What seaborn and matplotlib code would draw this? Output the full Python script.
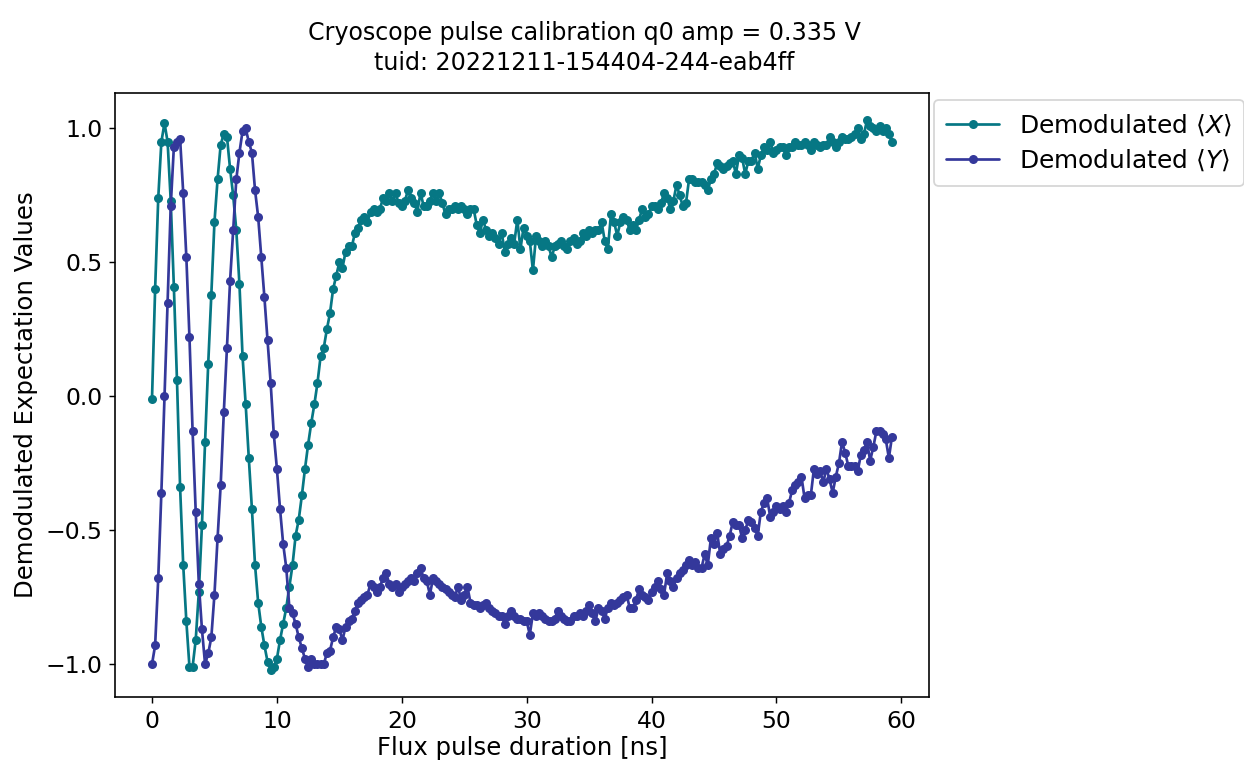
import numpy as np
import pandas as pd
import matplotlib
matplotlib.use("Agg")
import matplotlib.pyplot as plt
import seaborn as sns

# flux pulse durations [ns]
duration = np.arange(238) * 0.25

demod_x = [
    -0.01, 0.40, 0.74, 0.95, 1.02, 0.95, 0.73, 0.41, 0.06, -0.34,
    -0.63, -0.84, -1.01, -1.01, -0.91, -0.73, -0.48, -0.17, 0.12, 0.38,
    0.65, 0.81, 0.94, 0.98, 0.97, 0.85, 0.75, 0.62, 0.42, 0.15,
    -0.03, -0.23, -0.42, -0.63, -0.77, -0.86, -0.93, -0.99, -1.02, -1.01,
    -0.98, -0.91, -0.85, -0.79, -0.71, -0.63, -0.52, -0.46, -0.37, -0.27,
    -0.18, -0.10, -0.03, 0.05, 0.15, 0.18, 0.25, 0.31, 0.40, 0.45,
    # 15-20
    0.50, 0.48, 0.54, 0.56, 0.56, 0.61, 0.63, 0.66, 0.67, 0.65,
    0.69, 0.70, 0.69, 0.70, 0.74, 0.73, 0.76, 0.73, 0.76, 0.72,
    # 20-25
    0.71, 0.73, 0.77, 0.74, 0.72, 0.69, 0.76, 0.71, 0.71, 0.73,
    0.76, 0.73, 0.76, 0.72, 0.68, 0.70, 0.70, 0.71, 0.70, 0.71,
    # 25-30
    0.70, 0.68, 0.70, 0.70, 0.64, 0.61, 0.66, 0.62, 0.60, 0.61,
    0.59, 0.57, 0.61, 0.54, 0.57, 0.59, 0.57, 0.66, 0.55, 0.63,
    # 30-35
    0.60, 0.58, 0.47, 0.60, 0.58, 0.56, 0.58, 0.56, 0.52, 0.56,
    0.57, 0.58, 0.56, 0.55, 0.58, 0.59, 0.57, 0.58, 0.61, 0.60,
    # 35-40
    0.62, 0.61, 0.62, 0.62, 0.65, 0.58, 0.55, 0.68, 0.65, 0.60,
    0.65, 0.67, 0.66, 0.62, 0.64, 0.62, 0.66, 0.70, 0.67, 0.68,
    # 40-45
    0.71, 0.71, 0.70, 0.72, 0.76, 0.74, 0.70, 0.73, 0.79, 0.75,
    0.71, 0.72, 0.81, 0.81, 0.80, 0.80, 0.80, 0.79, 0.77, 0.81,
    # 45-50
    0.83, 0.87, 0.86, 0.85, 0.86, 0.87, 0.88, 0.83, 0.90, 0.89,
    0.83, 0.88, 0.88, 0.91, 0.85, 0.90, 0.93, 0.92, 0.95, 0.91,
    # 50-55
    0.92, 0.93, 0.93, 0.90, 0.93, 0.93, 0.95, 0.94, 0.94, 0.95,
    0.94, 0.92, 0.95, 0.94, 0.93, 0.94, 0.94, 0.97, 0.95, 0.93,
    # 55-59.25
    0.95, 0.97, 0.96, 0.96, 0.97, 0.98, 1.00, 0.96, 0.98, 1.03,
    1.01, 1.00, 0.99, 1.01, 0.99, 1.00, 0.98, 0.95,
]

demod_y = [
    -1.00, -0.93, -0.68, -0.36, 0.00, 0.35, 0.71, 0.93, 0.95, 0.96,
    0.76, 0.52, 0.22, -0.13, -0.43, -0.70, -0.87, -1.00, -0.96, -0.90,
    -0.74, -0.53, -0.33, -0.06, 0.18, 0.43, 0.62, 0.81, 0.91, 0.99,
    1.00, 0.95, 0.91, 0.77, 0.67, 0.52, 0.37, 0.21, 0.05, -0.14,
    -0.27, -0.42, -0.55, -0.64, -0.79, -0.81, -0.85, -0.90, -0.94, -0.98,
    -1.01, -0.98, -1.00, -1.00, -1.00, -1.00, -0.96, -0.95, -0.90, -0.86,
    # 15-20
    -0.87, -0.91, -0.86, -0.84, -0.83, -0.80, -0.77, -0.76, -0.75, -0.74,
    -0.70, -0.71, -0.73, -0.71, -0.68, -0.66, -0.70, -0.71, -0.70, -0.73,
    # 20-25
    -0.71, -0.70, -0.69, -0.68, -0.69, -0.66, -0.64, -0.68, -0.69, -0.74,
    -0.68, -0.69, -0.70, -0.71, -0.72, -0.73, -0.74, -0.75, -0.71, -0.76,
    # 25-30
    -0.74, -0.71, -0.77, -0.78, -0.78, -0.79, -0.78, -0.77, -0.79, -0.80,
    -0.81, -0.82, -0.82, -0.85, -0.82, -0.80, -0.82, -0.83, -0.83, -0.84,
    # 30-35
    -0.84, -0.89, -0.81, -0.82, -0.81, -0.82, -0.83, -0.84, -0.84, -0.83,
    -0.80, -0.82, -0.83, -0.84, -0.84, -0.82, -0.82, -0.81, -0.82, -0.80,
    # 35-40
    -0.78, -0.81, -0.84, -0.79, -0.80, -0.83, -0.79, -0.77, -0.78, -0.77,
    -0.76, -0.75, -0.74, -0.79, -0.79, -0.76, -0.72, -0.74, -0.75, -0.76,
    # 40-45
    -0.73, -0.71, -0.69, -0.72, -0.74, -0.66, -0.69, -0.71, -0.68, -0.66,
    -0.65, -0.63, -0.61, -0.63, -0.62, -0.64, -0.64, -0.59, -0.63, -0.53,
    # 45-50
    -0.55, -0.51, -0.59, -0.57, -0.56, -0.52, -0.47, -0.48, -0.48, -0.53,
    -0.50, -0.46, -0.47, -0.49, -0.52, -0.43, -0.40, -0.38, -0.45, -0.43,
    # 50-55
    -0.41, -0.42, -0.41, -0.43, -0.40, -0.35, -0.33, -0.32, -0.30, -0.38,
    -0.37, -0.37, -0.27, -0.29, -0.28, -0.32, -0.27, -0.31, -0.36, -0.30,
    # 55-59.25
    -0.25, -0.17, -0.21, -0.26, -0.26, -0.26, -0.28, -0.22, -0.20, -0.17,
    -0.24, -0.19, -0.13, -0.13, -0.14, -0.16, -0.23, -0.15,
]

labels = [r"Demodulated $\langle X \rangle$", r"Demodulated $\langle Y \rangle$"]
colors = ["#067784", "#34389b"]

assert len(demod_x) == len(duration) == len(demod_y)

sns.set_style("ticks")
plt.rcParams["font.family"] = ["DejaVu Sans"]
plt.rcParams["text.color"] = "black"
plt.rcParams["axes.labelcolor"] = "black"
plt.rcParams["xtick.color"] = "black"
plt.rcParams["ytick.color"] = "black"
plt.rcParams["axes.edgecolor"] = "black"
plt.rcParams["xtick.labelsize"] = 13
plt.rcParams["ytick.labelsize"] = 13
plt.rcParams["axes.labelsize"] = 13.5

df = pd.concat([
    pd.DataFrame({"duration": duration, "value": demod_x, "series": labels[0]}),
    pd.DataFrame({"duration": duration, "value": demod_y, "series": labels[1]}),
])

fig = plt.figure(figsize=(1244 / 130, 770 / 130), dpi=130)
ax = fig.add_axes([115 / 1244, 1 - 697 / 770, (929 - 115) / 1244, (697 - 93) / 770])

for lab, col in zip(labels, colors):
    sub = df[df["series"] == lab]
    sns.lineplot(data=sub, x="duration", y="value", ax=ax, color=col,
                 marker="o", markersize=5.0, markeredgecolor=col,
                 markeredgewidth=0, linewidth=1.5, estimator=None,
                 sort=False, label=lab)

ax.set_xlabel("Flux pulse duration [ns]", labelpad=2)
ax.set_ylabel("Demodulated Expectation Values", labelpad=4)
fig.suptitle("Cryoscope pulse calibration q0 amp = 0.335 V\ntuid: 20221211-154404-244-eab4ff",
             fontsize=13.2, x=584 / 1244, y=1 - 21 / 770, va="top", linespacing=1.3)
ax.set_xticks([0, 10, 20, 30, 40, 50, 60])
ax.set_yticks([-1.0, -0.5, 0.0, 0.5, 1.0])
for s in ax.spines.values():
    s.set_visible(True)
    s.set_linewidth(0.9)
ax.legend(loc="upper left", bbox_to_anchor=(1.006, 0.988), borderaxespad=0.0,
          frameon=True, fontsize=13.8, edgecolor="#cccccc", handlelength=2.1,
          borderpad=0.5, labelspacing=0.38)

fig.savefig("out.png", dpi=130)
